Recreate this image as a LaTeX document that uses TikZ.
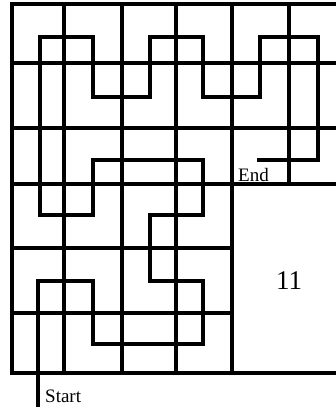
\documentclass[tikz,border=0pt]{standalone}
\usepackage{fontspec}
\setmainfont{Liberation Serif}
\begin{document}
\begin{tikzpicture}[x=1pt,y=-1pt,
  gridline/.style={line width=3.4pt,line cap=rect},
  pathline/.style={line width=3.4pt,line join=miter},
  lbl/.style={inner sep=0pt,font=\fontsize{19}{19}\selectfont}]
\useasboundingbox (0,0) rectangle (336,410);
\clip (0,0) rectangle (336,410);
% horizontal lines
\foreach \yy in {4,63,128,184} \draw[gridline] (12,\yy) -- (350,\yy);
\foreach \yy in {248,313} \draw[gridline] (12,\yy) -- (232,\yy);
\draw[gridline] (12,373) -- (350,373);
% vertical lines
\foreach \xx in {12,64,122,176,232} \draw[gridline] (\xx,4) -- (\xx,373);
\foreach \xx in {289,347} \draw[gridline] (\xx,4) -- (\xx,184);
% cell centres
\foreach \c/\xx in {0/40,1/93,2/150,3/203,4/260,5/318}
  \foreach \r/\yy in {0/37,1/97,2/160,3/215,4/281,5/344}
    \coordinate (c\c\r) at (\xx,\yy);
\coordinate (startpt) at (38,407);
\coordinate (endpt) at (257,160);
\draw[pathline] (startpt) -- (38,281) -- (c14) -- (c15) -- (c35) -- (c34) -- (c24)
  -- (c23) -- (c33) -- (c32) -- (c12) -- (c13) -- (c03) -- (c00) -- (c10)
  -- (c11) -- (c21) -- (c20) -- (c30) -- (c31) -- (c41) -- (c40) -- (c50)
  -- (c52) -- (endpt);
\node[lbl,anchor=base west] (start) at (45,402) {Start};
\node[lbl,anchor=base west] (end) at (238,181) {End};
\node[inner sep=0pt,font=\fontsize{27}{27}\selectfont] (eleven) at (289,281) {11};
\end{tikzpicture}
\end{document}
